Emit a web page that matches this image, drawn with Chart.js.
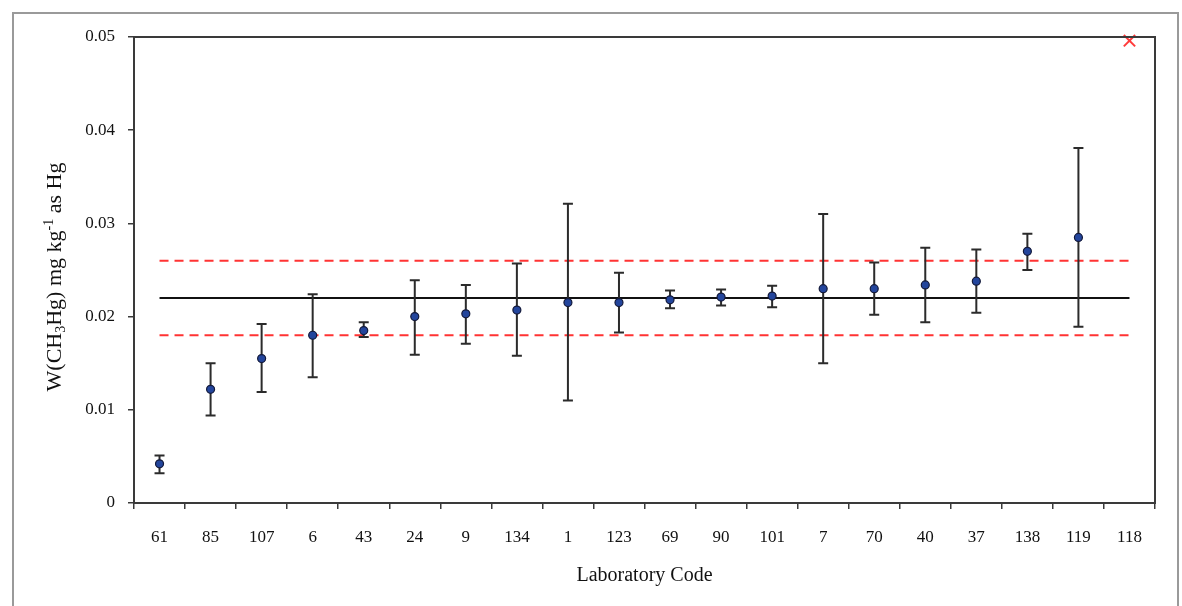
<!DOCTYPE html>
<html>
<head>
<meta charset="utf-8">
<script src="https://cdn.jsdelivr.net/npm/chart.js@4.4.1/dist/chart.umd.min.js"></script>
<style>
  html, body { margin: 0; padding: 0; background: #fff; }
  #wrap { position: relative; width: 1182px; height: 606px; }
</style>
</head>
<body>
<div id="wrap"><canvas id="labChart" width="1182" height="606"></canvas></div>
<script>
// laboratory codes on the x axis
const labCodes = ['61', '85', '107', '6', '43', '24', '9', '134', '1', '123',
                  '69', '90', '101', '7', '70', '40', '37', '138', '119', '118'];

// reported results (mg/kg as Hg), 118 has no point, only the red x
const results = [0.0042, 0.0122, 0.0155, 0.0180, 0.0185, 0.0200, 0.0203, 0.0207, 0.0215, 0.0215,
                 0.0218, 0.0221, 0.0222, 0.0230, 0.0230, 0.0234, 0.0238, 0.0270, 0.0285, null];
// error bar ends
const lowerErr = [0.0032, 0.0094, 0.0119, 0.0135, 0.0178, 0.0159, 0.0171, 0.0158, 0.0110, 0.0183,
                  0.0209, 0.0212, 0.0210, 0.0150, 0.0202, 0.0194, 0.0204, 0.0250, 0.0189, null];
const upperErr = [0.0051, 0.0150, 0.0192, 0.0224, 0.0194, 0.0239, 0.0234, 0.0257, 0.0321, 0.0247,
                  0.0228, 0.0229, 0.0233, 0.0310, 0.0258, 0.0274, 0.0272, 0.0289, 0.0381, null];

// value off the scale for lab 118
const outlierLab = '118';
const outlierValue = 0.0496;

// assigned value and limits
const assignedValue = 0.022;
const upperLimit = 0.026;
const lowerLimit = 0.018;

const yTicks = [0, 0.01, 0.02, 0.03, 0.04, 0.05];

const serif = "'Liberation Serif', 'Times New Roman', serif";

// error bars drawn just before the points dataset
const errorBars = {
    id: 'errorBars',
    beforeDatasetDraw(chart, args) {
        if (args.index !== 0) return;
        const ctx = chart.ctx;
        const x = chart.scales.x, y = chart.scales.y;
        ctx.save();
        ctx.strokeStyle = '#2b2b2b';
        ctx.lineWidth = 2;
        for (let i = 0; i < labCodes.length; i++) {
            if (lowerErr[i] == null) continue;
            const px = x.getPixelForValue(i);
            const y1 = y.getPixelForValue(lowerErr[i]);
            const y2 = y.getPixelForValue(upperErr[i]);
            ctx.beginPath();
            ctx.moveTo(px, y1); ctx.lineTo(px, y2);
            ctx.moveTo(px - 5, y1); ctx.lineTo(px + 5, y1);
            ctx.moveTo(px - 5, y2); ctx.lineTo(px + 5, y2);
            ctx.stroke();
        }
        ctx.restore();
    }
};

// frame, plot box and y title with sub/superscripts
const decorations = {
    id: 'decorations',
    beforeDraw(chart) {
        const ctx = chart.ctx;
        ctx.save();
        ctx.strokeStyle = '#9a9a9a';
        ctx.lineWidth = 2;
        ctx.beginPath();
        ctx.moveTo(13, 610); ctx.lineTo(13, 13); ctx.lineTo(1178, 13); ctx.lineTo(1178, 610);
        ctx.stroke();
        ctx.restore();
    },
    afterDraw(chart) {
        const ctx = chart.ctx;
        const a = chart.chartArea;
        ctx.save();
        ctx.strokeStyle = '#3a3a3a';
        ctx.lineWidth = 2;
        ctx.strokeRect(a.left, a.top, a.right - a.left, a.bottom - a.top);

        // y axis title
        const parts = [
            ['W(CH', 0], ['3', 1], ['Hg) mg kg', 0], ['-1', -1], [' as Hg', 0]
        ];
        const big = "22px " + serif, small = "14px " + serif;
        let total = 0;
        parts.forEach(p => { ctx.font = p[1] ? small : big; total += ctx.measureText(p[0]).width; });
        ctx.translate(55, 277);
        ctx.rotate(-Math.PI / 2);
        ctx.fillStyle = '#111';
        ctx.textBaseline = 'middle';
        let cx = -total / 2;
        parts.forEach(p => {
            ctx.font = p[1] ? small : big;
            const dy = p[1] === 1 ? 6 : (p[1] === -1 ? -6 : 0);
            ctx.fillText(p[0], cx, dy);
            cx += ctx.measureText(p[0]).width;
        });
        ctx.restore();
    }
};

const ctx = document.getElementById('labChart').getContext('2d');
new Chart(ctx, {
    type: 'line',
    data: {
        labels: labCodes,
        datasets: [
            {
                label: 'Result',
                data: results,
                showLine: false,
                pointRadius: 4,
                pointBackgroundColor: '#23459c',
                pointBorderColor: '#141a3a',
                pointBorderWidth: 1.2
            },
            {
                label: 'Excluded',
                data: [{ x: outlierLab, y: outlierValue }],
                showLine: false,
                pointStyle: 'crossRot',
                pointRadius: 8,
                pointBorderColor: '#ff3b3b',
                pointBorderWidth: 2,
                clip: false
            },
            {
                label: 'Assigned value',
                data: labCodes.map(() => assignedValue),
                borderColor: '#111',
                borderWidth: 2,
                pointRadius: 0
            },
            {
                label: 'Upper limit',
                data: labCodes.map(() => upperLimit),
                borderColor: '#ff3333',
                borderWidth: 2,
                borderDash: [9, 6],
                pointRadius: 0
            },
            {
                label: 'Lower limit',
                data: labCodes.map(() => lowerLimit),
                borderColor: '#ff3333',
                borderWidth: 2,
                borderDash: [9, 6],
                pointRadius: 0
            }
        ]
    },
    options: {
        responsive: false,
        animation: false,
        layout: { padding: { top: 37, right: 27, left: 0, bottom: 0 } },
        plugins: { legend: { display: false }, tooltip: { enabled: false } },
        scales: {
            x: {
                type: 'category',
                offset: true,
                grid: { offset: true, drawOnChartArea: false, drawTicks: true, tickLength: 6, color: '#3a3a3a', lineWidth: 1.5 },
                border: { color: '#3a3a3a', width: 2 },
                ticks: { color: '#111', padding: 18, font: { family: serif, size: 17 }, maxRotation: 0, autoSkip: false },
                title: { display: true, text: 'Laboratory Code', color: '#111', font: { family: serif, size: 20 }, padding: { top: 0, bottom: 18 } },
                afterFit(scale) { scale.height = 103; }
            },
            y: {
                min: 0,
                max: 0.05,
                afterBuildTicks(scale) { scale.ticks = yTicks.map(v => ({ value: v })); },
                grid: { drawOnChartArea: false, drawTicks: true, tickLength: 6, color: '#3a3a3a', lineWidth: 1.5 },
                border: { color: '#3a3a3a', width: 2 },
                ticks: {
                    color: '#111', padding: 13, font: { family: serif, size: 17 },
                    callback: v => v === 0 ? '0' : v.toFixed(2)
                },
                afterFit(scale) { scale.width = 134; }
            }
        }
    },
    plugins: [errorBars, decorations]
});
</script>
</body>
</html>
